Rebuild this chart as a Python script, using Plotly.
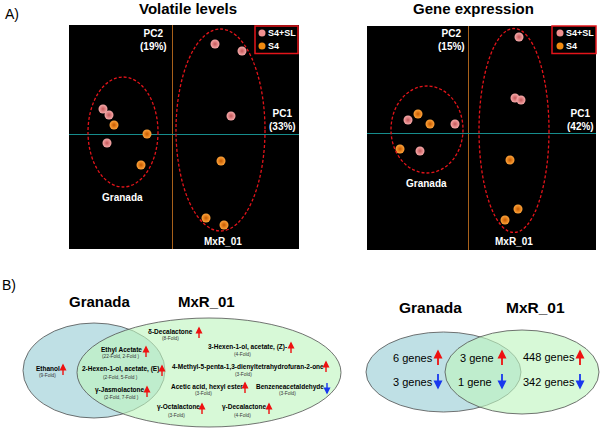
import plotly.graph_objects as go

W, H = 600, 428
FONT = "Liberation Sans, Arial, Helvetica, sans-serif"

def px(x):
    return x / W

def py(y):
    return 1 - y / H

# ---------------- Data: PCA scores ----------------
vol_pink_pc1 = [4.3, 7.0, 5.9, -6.9, -6.3, -6.5]
vol_pink_pc2 = [9.0, 8.3, 1.8, 2.5, 1.9, -0.9]
vol_orange_pc1 = [-5.8, -2.5, -3.1, 4.9, 3.4, 5.2]
vol_orange_pc2 = [0.9, 0.0, -3.1, -2.7, -8.4, -9.1]

gene_pink_pc1 = [5.1, 4.7, 5.3, -6.0, -1.3, -4.8]
gene_pink_pc2 = [9.6, 3.5, 3.3, 1.3, 0.9, -1.8]
gene_orange_pc1 = [-5.0, -3.8, -6.8, 4.2, 5.0, 3.7]
gene_orange_pc2 = [1.9, 0.9, -1.6, -2.7, -7.6, -8.7]

vol_var = ["PC1<br>(33%)", "PC2<br>(19%)"]
gene_var = ["PC1<br>(42%)", "PC2<br>(15%)"]
series_names = ["S4+SL", "S4"]

# cluster ellipses (center x, center y, radius x, radius y) in PC units
vol_clusters = {"Granada": (-4.9, 0.2, 3.5, 5.5), "MxR_01": (4.85, 0.4, 4.45, 10.1)}
gene_clusters = {"Granada": (-4.1, 0.35, 3.6, 4.35), "MxR_01": (4.6, 0.25, 3.5, 10.2)}

# ---------------- Data: Venn of volatiles ----------------
vol_names = ["Ethanol", "Ethyl Acetate", "2-Hexen-1-ol, acetate, (E)", "γ-Jasmolactone",
             "δ-Decalactone", "3-Hexen-1-ol, acetate, (Z)-",
             "4-Methyl-5-penta-1,3-dienyltetrahydrofuran-2-one", "Acetic acid, hexyl ester",
             "Benzeneacetaldehyde", "γ-Octalactone", "γ-Decalactone"]
vol_folds = ["(9-Fold)", "(22-Fold, 2-Fold )", "(2-Fold, 5-Fold )", "(2-Fold, 7-Fold )",
             "(8-Fold)", "(4-Fold)", "(3-Fold)", "(3-Fold)", "(3-Fold)", "(3-Fold)", "(4-Fold)"]
vol_dirs = ["up", "up", "up", "up", "up", "up", "up", "up", "down", "up", "up"]

# ---------------- Data: Venn of genes ----------------
gene_up_counts = [6, 3, 448]
gene_down_counts = [3, 1, 342]
gene_up_units = ["genes", "gene", "genes"]
gene_down_units = ["genes", "gene", "genes"]

# ---------------- Layout positions (pixels) ----------------
vol_pos = [  # name x, name y, fold x, fold y, arrow x, arrow y
    (47.5, 368, 47, 375, 63, 370),
    (121.5, 350, 120.5, 356.5, 146, 352),
    (120.7, 369, 120, 377, 162, 371),
    (119.5, 390, 121, 397, 147, 392),
    (171, 331, 171, 338, 199, 333),
    (247, 347, 242, 354, 291, 348),
    (247.5, 367, 243, 374, 326, 367),
    (207, 387, 203, 393, 245, 388),
    (290, 387, 287, 393, 327, 388),
    (178, 407, 176.5, 415, 202, 409),
    (244, 407, 242, 415, 269, 409),
]
gene_up_pos = [(413, 358, 438), (477, 358, 502), (549, 357, 580)]
gene_down_pos = [(413, 382, 438), (475, 382, 502), (549, 382, 580)]

PINK, PINK_EDGE = "#f7aaaa", "#c4585a"
ORANGE, ORANGE_EDGE = "#ffa43a", "#c65a00"
RED, BLUE = "#ee1111", "#1838ee"

fig = go.Figure()

def add_points(x, y, c, e, xa, ya):
    fig.add_trace(go.Scatter(
        x=x, y=y, mode="markers", xaxis=xa, yaxis=ya, showlegend=False, hoverinfo="skip",
        marker=dict(size=9, color=c, line=dict(width=0),
                    gradient=dict(type="radial", color=e))))

add_points(vol_pink_pc1, vol_pink_pc2, PINK, PINK_EDGE, "x", "y")
add_points(vol_orange_pc1, vol_orange_pc2, ORANGE, ORANGE_EDGE, "x", "y")
add_points(gene_pink_pc1, gene_pink_pc2, PINK, PINK_EDGE, "x2", "y2")
add_points(gene_orange_pc1, gene_orange_pc2, ORANGE, ORANGE_EDGE, "x2", "y2")

ax_common = dict(showgrid=False, showticklabels=False, ticks="", showline=False,
                 zeroline=True, zerolinewidth=1, fixedrange=True)
fig.update_layout(
    width=W, height=H, margin=dict(l=0, r=0, t=0, b=0),
    paper_bgcolor="white", plot_bgcolor="black", showlegend=False,
    font=dict(family=FONT, color="black"),
    xaxis=dict(domain=[px(69), px(299)], range=[-10.3, 12.7], zerolinecolor="#a8601a", **ax_common),
    yaxis=dict(domain=[py(249), py(25)], range=[-11.5, 10.9], zerolinecolor="#168c8c", **ax_common),
    xaxis2=dict(domain=[px(367), px(596)], range=[-10.1, 12.8], zerolinecolor="#a8601a", anchor="y2", **ax_common),
    yaxis2=dict(domain=[py(250), py(26)], range=[-11.7, 10.7], zerolinecolor="#168c8c", anchor="x2", **ax_common),
)

shapes = []
ann = []

# cluster ellipses
for clusters, xr, yr in [(vol_clusters, "x", "y"), (gene_clusters, "x2", "y2")]:
    for cx, cy, rx, ry in clusters.values():
        shapes.append(dict(type="circle", xref=xr, yref=yr, x0=cx - rx, x1=cx + rx,
                           y0=cy - ry, y1=cy + ry,
                           line=dict(color="#e3141a", width=1.3, dash="3px,2px")))

def text(x, y, s, size, color="black", bold=False, xanchor="center"):
    ann.append(dict(x=px(x), y=py(y), xref="paper", yref="paper", text=("<b>%s</b>" % s) if bold else s,
                    showarrow=False, xanchor=xanchor, yanchor="middle",
                    font=dict(size=size, color=color, family=FONT)))

# PCA labels
for off, var, lab in [(0, vol_var, (153, 282, 122, 197, 223)), (1, gene_var, (451, 580, 426, 183, 514))]:
    pc2x, pc1x, gx, gy, mx = lab
    text(pc2x, 40, var[1], 10, "white", True)
    text(pc1x, 120, var[0], 10, "white", True)
    text(gx, gy, "Granada", 10, "white", True)
    text(mx, 241, "MxR_01", 10, "white", True)

# legends
for x0, x1, dx in [(255, 298, 262), (552, 596, 560)]:
    shapes.append(dict(type="rect", xref="paper", yref="paper", x0=px(x0), x1=px(x1),
                       y0=py(53.5), y1=py(26), line=dict(color="#e3141a", width=1.5),
                       fillcolor="black"))
    for (yy, col) in [(33, "#f09090"), (46, "#f08a10")]:
        shapes.append(dict(type="circle", xref="paper", yref="paper", x0=px(dx - 3.5), x1=px(dx + 3.5),
                           y0=py(yy + 3.5), y1=py(yy - 3.5), line=dict(width=0), fillcolor=col))
    text(dx + 4, 33, series_names[0], 9, "white", True, "left")
    text(dx + 4, 46, series_names[1], 9, "white", True, "left")

# titles
text(12, 14, "A)", 14)
text(9, 285, "B)", 14)
text(188, 8, "Volatile levels", 15, bold=True)
text(473, 8, "Gene expression", 15, bold=True)

# Venn ellipses
BLUEF = "#bfe0e5"
GREENF = "rgba(190,246,190,0.62)"
EDGE = dict(color="#505050", width=0.8)
for (b, g) in [((23, 165, 323, 418), (77, 341, 318, 427)),
               ((366, 521, 332, 412), (445, 599, 330, 414))]:
    shapes.append(dict(type="circle", xref="paper", yref="paper", x0=px(b[0]), x1=px(b[1]),
                       y0=py(b[3]), y1=py(b[2]), fillcolor=BLUEF, line=EDGE, layer="below"))
    shapes.append(dict(type="circle", xref="paper", yref="paper", x0=px(g[0]), x1=px(g[1]),
                       y0=py(g[3]), y1=py(g[2]), fillcolor=GREENF, line=EDGE, layer="below"))

text(100, 301, "Granada", 15, bold=True)
text(206, 301, "MxR_01", 15, bold=True)
text(430, 307, "Granada", 15.5, bold=True)
text(535, 307, "MxR_01", 15.5, bold=True)

def arrow(x, yc, L, up, width):
    if up:
        yh, ay, col = yc - L / 2, L, RED
    else:
        yh, ay, col = yc + L / 2, -L, BLUE
    ann.append(dict(x=px(x), y=py(yh), xref="paper", yref="paper", ax=0, ay=ay, text="",
                    showarrow=True, arrowhead=2, arrowsize=1, arrowwidth=width, arrowcolor=col,
                    standoff=0))

for name, fold, d, p in zip(vol_names, vol_folds, vol_dirs, vol_pos):
    nx, ny, fx, fy, axx, ayy = p
    text(nx, ny, name, 6.5, "black", True)
    text(fx, fy, fold, 4.8, "#333333")
    arrow(axx, ayy, 13, d == "up", 1.4)

for n, u, p in zip(gene_up_counts, gene_up_units, gene_up_pos):
    text(p[0], p[1], "%d %s" % (n, u), 11)
    arrow(p[2], 358, 17, True, 1.8)
for n, u, p in zip(gene_down_counts, gene_down_units, gene_down_pos):
    text(p[0], p[1], "%d %s" % (n, u), 11)
    arrow(p[2], 381, 17, False, 1.8)

fig.update_layout(shapes=shapes, annotations=ann)
fig.write_html("out.html", config={"displayModeBar": False},
               post_script="document.body.style.margin='0';document.body.style.overflow='hidden';")
